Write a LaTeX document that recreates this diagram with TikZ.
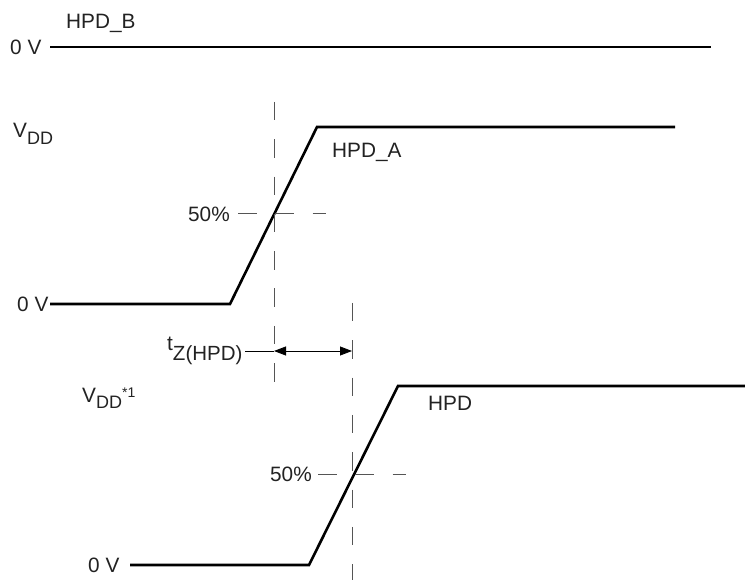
\documentclass[tikz,border=0pt]{standalone}
\usepackage{fontspec}
\setmainfont{Liberation Sans}
\usetikzlibrary{arrows.meta}
\definecolor{txt}{HTML}{222222}
\definecolor{dashc}{HTML}{555555}
\tikzset{
  wave/.style={line width=2.6pt, black, line join=miter},
  guide/.style={line width=0.9pt, dashc, dash pattern=on 18.5pt off 18.8pt},
  lbl/.style={inner sep=0pt, text=txt, font=\fontsize{20.8}{24}\selectfont},
  meas/.style={line width=0.8pt, black},
}
\newcommand{\subtxt}[1]{\raisebox{-0.55ex}{\fontsize{18}{20}\selectfont #1}}
\begin{document}
\begin{tikzpicture}[x=1pt,y=-1pt]
\useasboundingbox (0,0) rectangle (745,580);
% waveform points
\coordinate (b0) at (50,47);
\coordinate (b1) at (711,47);
\coordinate (a0) at (50,304);
\coordinate (a1) at (230,304);
\coordinate (a2) at (317,127);
\coordinate (a3) at (675,127);
\coordinate (c0) at (130,565);
\coordinate (c1) at (309,565);
\coordinate (c2) at (398,386);
\coordinate (c3) at (745,386);
% guides
\coordinate (v1t) at (274,102);
\coordinate (v1b) at (274,383);
\coordinate (v2t) at (352,303);
\coordinate (v2b) at (352,580);
\coordinate (h1l) at (238,213);
\coordinate (h1r) at (326,213);
\coordinate (h2l) at (318,474);
\coordinate (h2r) at (406,474);
\coordinate (m1) at (274,351);
\coordinate (m2) at (352,351);
\coordinate (ml) at (245,351);

\draw[wave] (b0) -- (b1);
\draw[wave] (a0) -- (a1) -- (a2) -- (a3);
\draw[wave] (c0) -- (c1) -- (c2) -- (c3);

\draw[guide] (v1t) -- (v1b);
\draw[guide] (v2t) -- (v2b);
\draw[guide] (h1l) -- (h1r);
\draw[guide] (h2l) -- (h2r);

\draw[meas, {Triangle[length=12pt,width=9pt]}-{Triangle[length=12pt,width=9pt]}] (m1) -- (m2);
\draw[meas] (ml) -- (m1);

% labels
\node[lbl, anchor=base west] (lb0) at (10,54.5) {0 V};
\node[lbl, anchor=base west] (lhb) at (66,29) {HPD\_B};
\node[lbl, anchor=base west] (lvdd1) at (13,138) {V\subtxt{DD}};
\node[lbl, anchor=base west] (lha) at (332,158) {HPD\_A};
\node[lbl, anchor=base east] (l501) at (230,221.5) {50\%};
\node[lbl, anchor=base west] (la0) at (17,311.5) {0 V};
\node[lbl, anchor=base west] (ltz) at (167,350) {t\raisebox{-10.5pt}{\fontsize{20.5}{22}\selectfont Z(HPD)}};
\node[lbl, anchor=base west] (lvdd2) at (82,402) {V\subtxt{DD}\raisebox{0.45ex}{\fontsize{14}{16}\selectfont *1}};
\node[lbl, anchor=base west] (lhpd) at (428,410) {HPD};
\node[lbl, anchor=base east] (l502) at (312,481.5) {50\%};
\node[lbl, anchor=base west] (lc0) at (88,572.5) {0 V};
\end{tikzpicture}
\end{document}
